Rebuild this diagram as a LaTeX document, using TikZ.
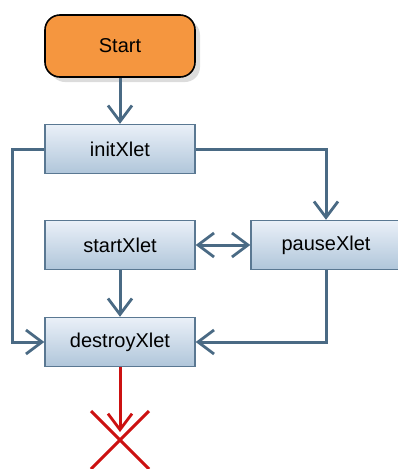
\documentclass[tikz,border=0pt]{standalone}
\usepackage{fontspec}
\setmainfont{Liberation Sans}
\usetikzlibrary{arrows.meta,shadows,positioning}
\definecolor{edge}{HTML}{4A6A84}
\definecolor{boxtop}{HTML}{EAF0F8}
\definecolor{boxbot}{HTML}{B0C6DA}
\definecolor{boxline}{HTML}{5A7892}
\definecolor{startfill}{HTML}{F5963F}
\definecolor{xred}{HTML}{CC1111}
\definecolor{shadowgray}{HTML}{DCDCDC}
\tikzset{
  xlet/.style={draw=boxline, line width=1.4pt, top color=boxtop, bottom color=boxbot,
    minimum width=150pt, minimum height=49pt, inner sep=0pt, font=\fontsize{20}{24}\selectfont},
  startbox/.style={draw=black, line width=1.6pt, fill=startfill, rounded corners=15pt,
    minimum width=150pt, minimum height=62pt, inner sep=0pt, font=\fontsize{20}{24}\selectfont,
    drop shadow={shadow xshift=5pt, shadow yshift=-5pt, fill=shadowgray, opacity=1}},
  barb/.tip={Straight Barb[length=16pt,width=24pt,line width=2.8pt]},
  conn/.style={draw=edge, line width=3pt, -barb},
  conn2/.style={draw=edge, line width=3pt, barb-barb},
  endline/.style={draw=xred, line width=3pt},
}
\begin{document}
\begin{tikzpicture}[x=1pt,y=-1pt]
\useasboundingbox (0,0) rectangle (398,469);
\node[startbox] (start) at (120,46) {Start};
\node[xlet] (init) at (120,149) {initXlet};
\node[xlet] (startx) at (120,245) {startXlet};
\node[xlet] (pause) at (326,245) {pauseXlet};
\node[xlet] (destroy) at (120,342) {destroyXlet};
\coordinate (tip) at (120,432);
\coordinate (xa) at (91,411);
\coordinate (xb) at (149,469);
\coordinate (xd) at (149,411);
\coordinate (xe) at (91,469);
\coordinate (initR) at (326,149);
\coordinate (initL) at (12,149);
\coordinate (pauseB) at (326,342);
\draw[conn] (start) -- (init);
\draw[conn] (init.east) -- (initR) -- (pause.north);
\draw[conn] (init.west) -- (initL) |- (destroy.west);
\draw[conn2] (startx) -- (pause);
\draw[conn] (startx) -- (destroy);
\draw[conn] (pause.south) -- (pauseB) -- (destroy.east);
\draw[endline, -barb] (destroy) -- (tip);
\draw[endline] (xa) -- (xb);
\draw[endline] (xd) -- (xe);
\end{tikzpicture}
\end{document}
